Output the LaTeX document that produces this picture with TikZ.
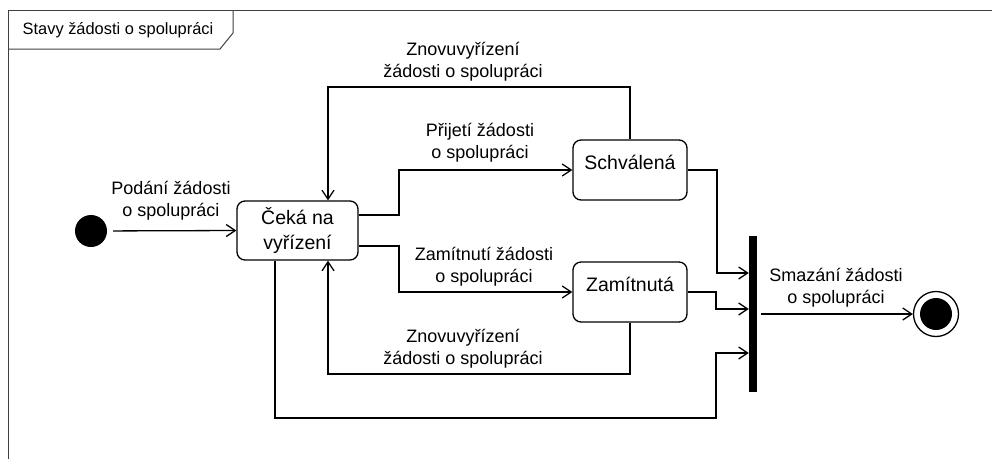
\documentclass[tikz,border=0pt]{standalone}
\usepackage{fontspec}
\setmainfont{Liberation Sans}
\usetikzlibrary{arrows.meta}
\begin{document}
\begin{tikzpicture}[x=1pt,y=-1pt,
  conn/.style={line width=1.3pt},
  arr/.style={conn,-{Straight Barb[length=9pt,width=12pt,line width=1.3pt]}},
  state/.style={draw,line width=1.3pt,rounded corners=8pt,inner sep=0pt},
  lbl/.style={align=center,font=\fontsize{18}{22}\selectfont,inner sep=0pt},
  stxt/.style={align=center,font=\fontsize{19.5}{25}\selectfont,inner sep=0pt}]
\useasboundingbox (0,0) rectangle (992,459);
\fill[white] (0,0) rectangle (992,459);
% frame and tab
\draw[line width=1pt,black!75] (8,459) -- (8,10) -- (992,10);
\draw[line width=1pt,black!75] (233,10) -- (233,33) -- (220,49) -- (8,49);
\node[font=\fontsize{16.4}{20}\selectfont,inner sep=0pt] (title) at (118,30) {Stavy žádosti o spolupráci};
% nodes
\node[circle,fill=black,minimum size=32pt,inner sep=0pt] (init) at (91,231) {};
\node[state,minimum width=121pt,minimum height=59pt,stxt] (ceka) at (297.5,230.5) {Čeká na\\vyřízení};
\node[state,minimum width=114pt,minimum height=60pt] (schv) at (630,170) {};
\node[stxt] (schvt) at (630,162) {Schválená};
\node[state,minimum width=114pt,minimum height=60pt] (zam) at (630,292) {};
\node[stxt] (zamt) at (630,284) {Zamítnutá};
\node[fill=black,minimum width=8pt,minimum height=156pt,inner sep=0pt] (bar) at (753,314) {};
\node[circle,draw,line width=1.3pt,minimum size=45pt,inner sep=0pt] (fin) at (936,314) {};
\fill (fin) circle (16pt);
% connectors
\draw[arr,shorten <=6pt] (init) -- (ceka.west);
\draw[arr] ([yshift=15.5pt]ceka.east) -| (399,170) -- (schv.west);
\draw[arr] ([yshift=-15.5pt]ceka.east) -| (399,292) -- (zam.west);
\draw[arr] (schv.north) |- (328,87) -- ([xshift=30.5pt]ceka.north);
\draw[arr] (zam.south) |- (328,374) -- ([xshift=30.5pt]ceka.south);
\draw[arr] ([xshift=-22.5pt]ceka.south) |- (716,418) -- (716,353) -- (bar.west |- 716,353);
\draw[arr] (schv.east) -| (717,273) -- (bar.west |- 717,273);
\draw[arr] (zam.east) -| (716,309) -- (bar.west |- 716,309);
\draw[arr,shorten <=4pt] (bar.east |- fin) -- (fin.west);
% labels
\node[lbl] (l1) at (171,201) {Podání žádosti\\o spolupráci};
\node[lbl] (l2) at (480,143) {Přijetí žádosti\\o spolupráci};
\node[lbl] (l3) at (484,267) {Zamítnutí žádosti\\o spolupráci};
\node[lbl] (l4) at (463,62) {Znovuvyřízení\\žádosti o spolupráci};
\node[lbl] (l5) at (463,349) {Znovuvyřízení\\žádosti o spolupráci};
\node[lbl] (l6) at (836,288) {Smazání žádosti\\o spolupráci};
\end{tikzpicture}
\end{document}
